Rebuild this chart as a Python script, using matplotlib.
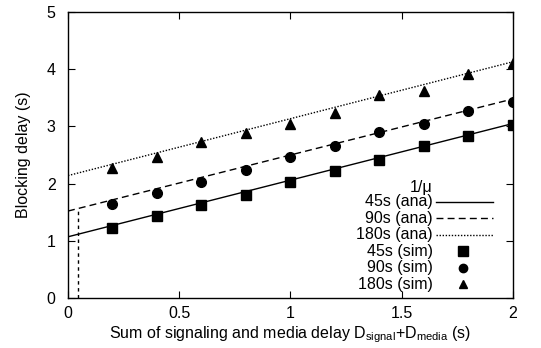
import numpy as np
import matplotlib
matplotlib.use('Agg')
import matplotlib.pyplot as plt

plt.rcParams['font.family'] = ['Liberation Sans', 'DejaVu Sans']
plt.rcParams['mathtext.fontset'] = 'custom'
plt.rcParams['mathtext.rm'] = 'Liberation Sans'
plt.rcParams['mathtext.it'] = 'Liberation Sans:italic'
plt.rcParams['font.size'] = 11.5

# simulated points
x_sim = [0.2, 0.4, 0.6, 0.8, 1.0, 1.2, 1.4, 1.6, 1.8, 2.0]
sim_45 = [1.22, 1.43, 1.63, 1.80, 2.03, 2.22, 2.41, 2.65, 2.83, 3.02]
sim_90 = [1.64, 1.84, 2.03, 2.24, 2.46, 2.65, 2.90, 3.05, 3.27, 3.43]
sim_180 = [2.27, 2.47, 2.72, 2.89, 3.04, 3.23, 3.55, 3.62, 3.92, 4.11]

# analytical lines (end points)
x_ana = [0.0, 2.0]
ana_45 = [1.07, 3.05]
ana_90 = [1.52, 3.48]
ana_180 = [2.14, 4.13]

# marked vertical line
vline_x = 0.045
vline_top = 1.56

legend_title = '1/μ'
labels = ['45s (ana)', '90s (ana)', '180s (ana)', '45s (sim)', '90s (sim)', '180s (sim)']

styles = [
    dict(ls='-', marker=None),
    dict(ls=(0, (5, 3)), marker=None),
    dict(ls=(0, (1, 1.2)), marker=None),
    dict(ls='none', marker='s', ms=7.5),
    dict(ls='none', marker='o', ms=7),
    dict(ls='none', marker='^', ms=6.5),
]

fig = plt.figure(figsize=(5.41, 3.48), dpi=100)
ax = fig.add_axes([0.1257, 0.1437, 0.8223, 0.8218])

ax.plot(x_ana, ana_45, color='black', lw=1.0, **styles[0])
ax.plot(x_ana, ana_90, color='black', lw=1.0, **styles[1])
ax.plot(x_ana, ana_180, color='black', lw=1.0, **styles[2])
ax.plot(x_sim, sim_45, color='black', **styles[3])
ax.plot(x_sim, sim_90, color='black', **styles[4])
ax.plot(x_sim, sim_180, color='black', **styles[5])
ax.plot([vline_x, vline_x], [0, vline_top], color='black', lw=1.0, ls=(0, (2.5, 2.5)))

ax.set_xlim(0, 2)
ax.set_ylim(0, 5)
ax.set_xticks([0, 0.5, 1, 1.5, 2])
ax.set_xticklabels(['0', '0.5', '1', '1.5', '2'])
ax.set_yticks([0, 1, 2, 3, 4, 5])
ax.tick_params(direction='in', top=True, right=True, length=5, width=0.8)
ax.tick_params(axis='x', pad=6)
ax.tick_params(axis='y', pad=9)
for s in ax.spines.values():
    s.set_linewidth(1.0)

ax.set_ylabel('Blocking delay (s)', labelpad=11)
ax.set_xlabel(r'Sum of signaling and media delay D$_{\mathrm{signal}}$+D$_{\mathrm{media}}$ (s)', labelpad=2)

# key, gnuplot style: right-aligned text, sample on the right
tx, y0, dy = 0.820, 0.336, 0.0575
ax.text(tx, y0 + 0.052, legend_title, transform=ax.transAxes, ha='right', va='center')
for i, (lab, st) in enumerate(zip(labels, styles)):
    yy = y0 - i * dy
    ax.text(tx, yy, lab, transform=ax.transAxes, ha='right', va='center')
    if st['marker'] is None:
        ax.plot([0.828, 0.955], [yy, yy], transform=ax.transAxes, color='black', lw=1.0, ls=st['ls'])
    else:
        ax.plot([0.889], [yy], transform=ax.transAxes, color='black', ls='none',
                marker=st['marker'], ms=st['ms'] - 1)

fig.savefig('out.png', dpi=100)
